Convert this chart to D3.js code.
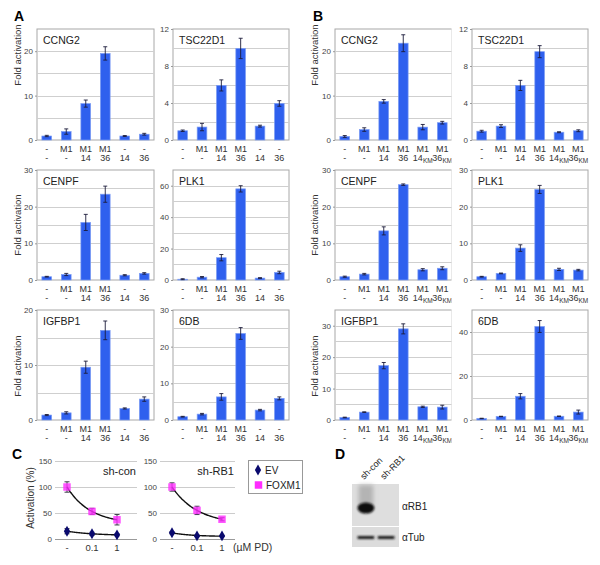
<!DOCTYPE html>
<html><head><meta charset="utf-8">
<script src="https://cdn.jsdelivr.net/npm/d3@7/dist/d3.min.js"></script>
<style>body{margin:0;background:#fff}</style>
</head><body>
<script>
// ---------- DATA ----------
const rowLabelA = ["-","M1","M1","M1","-","-"];
const subLabelA = ["-","-","14","36","14","36"];
const rowLabelB = ["-","M1","M1","M1","M1","M1"];
const subLabelB = ["-","-","14","36","14","36"];
const subScriptB = ["","","","","KM","KM"];

const ccng2A = [0.9, 1.9, 8.2, 19.5, 0.9, 1.3];
const ccng2AErr = [0.15, 0.6, 0.8, 1.5, 0.1, 0.2];
const tsc22d1A = [1.0, 1.4, 5.9, 9.9, 1.5, 3.95];
const tsc22d1AErr = [0.08, 0.4, 0.6, 1.1, 0.1, 0.3];
const cenpfA = [0.9, 1.5, 15.7, 23.4, 1.3, 1.8];
const cenpfAErr = [0.1, 0.3, 2.2, 2.2, 0.15, 0.2];
const plk1A = [0.5, 1.8, 14.2, 58, 1.2, 4.8];
const plk1AErr = [0.3, 0.4, 2.0, 2.0, 0.3, 0.8];
const igfbp1A = [0.9, 1.3, 9.6, 16.3, 2.1, 3.8];
const igfbp1AErr = [0.1, 0.2, 1.1, 1.7, 0.1, 0.4];
const sixdbA = [0.9, 1.6, 6.3, 23.6, 2.7, 5.9];
const sixdbAErr = [0.1, 0.2, 0.9, 1.6, 0.2, 0.4];

const ccng2B = [0.8, 2.35, 8.7, 21.8, 2.9, 3.9];
const ccng2BErr = [0.2, 0.4, 0.4, 1.9, 0.6, 0.3];
const tsc22d1B = [0.95, 1.5, 5.9, 9.55, 0.84, 1.0];
const tsc22d1BErr = [0.1, 0.15, 0.55, 0.65, 0.05, 0.1];
const cenpfB = [0.9, 1.6, 13.4, 26.0, 2.8, 3.2];
const cenpfBErr = [0.15, 0.2, 1.1, 0.2, 0.3, 0.4];
const plk1B = [0.9, 1.8, 8.7, 24.7, 2.9, 2.7];
const plk1BErr = [0.1, 0.1, 0.9, 1.1, 0.3, 0.2];
const igfbp1B = [0.8, 2.5, 17.3, 29.0, 4.2, 4.1];
const igfbp1BErr = [0.1, 0.1, 1.0, 1.6, 0.2, 0.6];
const sixdbB = [0.7, 1.6, 10.8, 42.5, 1.7, 3.6];
const sixdbBErr = [0.1, 0.1, 1.2, 2.7, 0.1, 0.9];

const doses = ["-", "0.1", "1"];
const shConFOXM1 = [100, 53, 37];
const shConFOXM1Err = [10, 6, 10];
const shConEV = [15, 10, 8];
const shConEVErr = [5, 3, 2];
const shRB1FOXM1 = [100, 55, 38];
const shRB1FOXM1Err = [8, 8, 3];
const shRB1EV = [12, 6, 6];
const shRB1EVErr = [2, 1, 1];
const cTicks = [0, 50, 100, 150];

// ---------- LAYOUT ----------
const FONT = "Arial, 'Liberation Sans', Helvetica, sans-serif";
const BAR = "#2f60ee", BAR_EDGE = "#7d9df4", ERR = "#1b1b3a";
const svg = d3.select("body").append("svg").attr("width", 600).attr("height", 565)
  .style("font-family", FONT);

const defs = svg.append("defs");
defs.append("clipPath").attr("id", "clipB1").append("rect")
  .attr("x", 296).attr("y", 0).attr("width", 155.5).attr("height", 450);
defs.append("filter").attr("id", "blur1").attr("x", "-50%").attr("y", "-50%").attr("width", "200%").attr("height", "200%")
  .append("feGaussianBlur").attr("stdDeviation", 1.2);
defs.append("filter").attr("id", "blur2").attr("x", "-50%").attr("y", "-50%").attr("width", "200%").attr("height", "200%")
  .append("feGaussianBlur").attr("stdDeviation", 2.2);

const colsA = [{x0: 37, x1: 154}, {x0: 173, x1: 289}];
const colsB = [{x0: 335, x1: 452}, {x0: 472, x1: 588}];
const rows = [{y0: 29, y1: 140, lab: 55}, {y0: 170, y1: 280, lab: 225}, {y0: 310, y1: 420, lab: 366}];

function drawBars(parent, c) {
  const g = parent.append("g");
  const x = d3.scaleBand().domain(d3.range(c.values.length)).range([c.x0, c.x1])
    .paddingInner(0.5).paddingOuter(0.25);
  const y = d3.scaleLinear().domain([0, c.max]).range([c.y1, c.y0]);
  g.append("rect").attr("x", c.x0).attr("y", y(c.max)).attr("width", c.x1 - c.x0)
    .attr("height", y(0) - y(c.max)).attr("fill", "#fff").attr("stroke", "#a8a8a8").attr("stroke-width", 1);
  g.selectAll(".grid").data(d3.range(c.grid, c.max - 1e-6, c.grid)).join("line")
    .attr("x1", c.x0).attr("x2", c.x1).attr("y1", d => Math.round(y(d)) + 0.5).attr("y2", d => Math.round(y(d)) + 0.5)
    .attr("stroke", "#cfcfcf").attr("stroke-width", 1);
  const ax = g.append("g").attr("transform", `translate(${c.x0},0)`)
    .call(d3.axisLeft(y).tickValues(d3.range(0, c.max + 1e-6, c.tick)).tickSize(2).tickPadding(2));
  ax.attr("font-family", FONT).attr("font-size", 8);
  ax.select(".domain").remove();
  ax.selectAll("line").attr("stroke", "#999");
  ax.selectAll("text").attr("fill", "#444");
  g.append("text").attr("x", c.x0 + 6).attr("y", y(c.max) + 14.5).attr("font-size", 10.5)
    .attr("fill", "#222").text(c.name);
  g.selectAll(".bar").data(c.values).join("rect")
    .attr("x", (d, i) => x(i)).attr("width", x.bandwidth())
    .attr("y", d => y(d)).attr("height", d => y(0) - y(d))
    .attr("fill", BAR).attr("stroke", BAR_EDGE).attr("stroke-width", 0.7);
  const eb = g.selectAll(".err").data(c.values).join("g").attr("stroke", ERR).attr("stroke-width", 0.9);
  eb.append("line").attr("x1", (d, i) => x(i) + x.bandwidth() / 2).attr("x2", (d, i) => x(i) + x.bandwidth() / 2)
    .attr("y1", (d, i) => y(d - c.errs[i])).attr("y2", (d, i) => y(d + c.errs[i]));
  [1, -1].forEach(s => {
    eb.append("line").attr("x1", (d, i) => x(i) + x.bandwidth() / 2 - 2).attr("x2", (d, i) => x(i) + x.bandwidth() / 2 + 2)
      .attr("y1", (d, i) => y(d + s * c.errs[i])).attr("y2", (d, i) => y(d + s * c.errs[i]));
  });
  g.selectAll(".l1").data(c.lab1).join("text")
    .attr("x", (d, i) => x(i) + x.bandwidth() / 2).attr("y", y(0) + 11.5)
    .attr("text-anchor", "middle").attr("font-size", 9).attr("fill", "#333").text(d => d);
  const l2 = g.selectAll(".l2").data(c.lab2).join("text")
    .attr("x", (d, i) => x(i) + x.bandwidth() / 2).attr("y", y(0) + 20.5)
    .attr("text-anchor", "middle").attr("font-size", 9).attr("fill", "#333");
  l2.append("tspan").text(d => d);
  if (c.sub) {
    l2.append("tspan").attr("font-size", 6.5).attr("dy", 2).text((d, i) => c.sub[i]);
  }
}

function figure(cols, labA, labB, sub, sets, ylabX, clipFirst) {
  const gCol0 = svg.append("g");
  if (clipFirst) gCol0.attr("clip-path", "url(#clipB1)");
  const gCol1 = svg.append("g");
  sets.forEach((s, k) => {
    const r = rows[Math.floor(k / 2)], col = cols[k % 2];
    drawBars(k % 2 === 0 ? gCol0 : gCol1, Object.assign({}, s, {x0: col.x0, x1: col.x1, y0: r.y0, y1: r.y1,
      lab1: labA, lab2: labB, sub: sub}));
  });
  rows.forEach(r => {
    svg.append("text").attr("transform", `translate(${ylabX},${r.lab}) rotate(-90)`)
      .attr("text-anchor", "middle").attr("dy", "0.35em").attr("font-size", 9.5).attr("fill", "#333")
      .text("Fold activation");
  });
}

figure(colsA, rowLabelA, subLabelA, null, [
  {name: "CCNG2", values: ccng2A, errs: ccng2AErr, max: 25, grid: 5, tick: 10},
  {name: "TSC22D1", values: tsc22d1A, errs: tsc22d1AErr, max: 12, grid: 2, tick: 4},
  {name: "CENPF", values: cenpfA, errs: cenpfAErr, max: 30, grid: 5, tick: 10},
  {name: "PLK1", values: plk1A, errs: plk1AErr, max: 70, grid: 10, tick: 20},
  {name: "IGFBP1", values: igfbp1A, errs: igfbp1AErr, max: 20, grid: 5, tick: 10},
  {name: "6DB", values: sixdbA, errs: sixdbAErr, max: 30, grid: 5, tick: 10}
], 17.5, false);

figure(colsB, rowLabelB, subLabelB, subScriptB, [
  {name: "CCNG2", values: ccng2B, errs: ccng2BErr, max: 25, grid: 5, tick: 10},
  {name: "TSC22D1", values: tsc22d1B, errs: tsc22d1BErr, max: 12, grid: 2, tick: 4},
  {name: "CENPF", values: cenpfB, errs: cenpfBErr, max: 30, grid: 5, tick: 10},
  {name: "PLK1", values: plk1B, errs: plk1BErr, max: 30, grid: 5, tick: 10},
  {name: "IGFBP1", values: igfbp1B, errs: igfbp1BErr, max: 35, grid: 5, tick: 10},
  {name: "6DB", values: sixdbB, errs: sixdbBErr, max: 50, grid: 10, tick: 20}
], 315, true);

// ---------- PANEL C ----------
// exponential trend line (y = a + b*r^t) fitted to the three measured points
function expFit(vals) {
  let r = (vals[1] - vals[2]) / (vals[0] - vals[1]);
  if (!isFinite(r)) r = 0.5;
  r = Math.max(0.3, Math.min(0.9, r));
  const f = [1, r, r * r];
  const mf = d3.mean(f), mv = d3.mean(vals);
  const b = d3.sum(f, (fi, i) => (fi - mf) * (vals[i] - mv)) / d3.sum(f, fi => (fi - mf) ** 2);
  const a = mv - b * mf;
  return t => a + b * Math.pow(r, t);
}
const yC = d3.scaleLinear().domain([0, 150]).range([539, 461]);
const cCharts = [
  {name: "sh-con", x0: 55, x1: 137, p0: 67, p1: 117, fox: shConFOXM1, foxE: shConFOXM1Err, ev: shConEV, evE: shConEVErr},
  {name: "sh-RB1", x0: 160, x1: 235, p0: 172, p1: 222, fox: shRB1FOXM1, foxE: shRB1FOXM1Err, ev: shRB1EV, evE: shRB1EVErr}
];
const symFox = d3.symbol().type(d3.symbolSquare).size(56);
const symEV = d3.symbol().type(d3.symbolDiamond).size(34);
cCharts.forEach(c => {
  const g = svg.append("g");
  const x = d3.scalePoint().domain(doses).range([c.p0, c.p1]);
  g.selectAll(".cg").data(cTicks.slice(1)).join("line")
    .attr("x1", c.x0).attr("x2", c.x1).attr("y1", d => Math.round(yC(d)) + 0.5).attr("y2", d => Math.round(yC(d)) + 0.5)
    .attr("stroke", "#cccccc");
  g.append("line").attr("x1", c.x0).attr("x2", c.x1).attr("y1", Math.round(yC(0)) + 0.5).attr("y2", Math.round(yC(0)) + 0.5)
    .attr("stroke", "#9a9a9a");
  const ax = g.append("g").attr("transform", `translate(${c.x0},0)`)
    .call(d3.axisLeft(yC).tickValues(cTicks).tickSize(0).tickPadding(3));
  ax.attr("font-family", FONT).attr("font-size", 8);
  ax.select(".domain").remove();
  ax.selectAll("text").attr("fill", "#444");
  g.selectAll(".xl").data(doses).join("text").attr("x", d => x(d)).attr("y", 551)
    .attr("text-anchor", "middle").attr("font-size", 9.5).attr("fill", "#333").text(d => d);
  g.append("text").attr("x", c.x1 - 1).attr("y", 474.5).attr("text-anchor", "end")
    .attr("font-size", 11).attr("fill", "#222").text(c.name);
  const ts = d3.range(0, 2.0001, 0.05);
  const tx = t => x(doses[0]) + t * x.step();
  [c.ev, c.fox].forEach(s => {
    const fit = expFit(s);
    g.append("path").attr("d", d3.line().x(tx).y(t => yC(fit(t))).curve(d3.curveMonotoneX)(ts))
      .attr("fill", "none").attr("stroke", "#111").attr("stroke-width", 1.4);
  });
  [[c.ev, c.evE], [c.fox, c.foxE]].forEach(([s, e]) => {
    const eg = g.append("g").attr("stroke", "#2a2a3a").attr("stroke-width", 0.9);
    s.forEach((v, i) => {
      const xx = x(doses[i]);
      eg.append("line").attr("x1", xx).attr("x2", xx).attr("y1", yC(v - e[i])).attr("y2", yC(v + e[i]));
      [v - e[i], v + e[i]].forEach(w => eg.append("line").attr("x1", xx - 2.5).attr("x2", xx + 2.5)
        .attr("y1", yC(w)).attr("y2", yC(w)));
    });
  });
  g.selectAll(".pev").data(c.ev).join("path").attr("d", symEV)
    .attr("transform", (d, i) => `translate(${x(doses[i])},${yC(d)})`).attr("fill", "#0a0a6e");
  g.selectAll(".pfx").data(c.fox).join("path").attr("d", symFox)
    .attr("transform", (d, i) => `translate(${x(doses[i])},${yC(d)})`).attr("fill", "#ff2cff").attr("fill-opacity", 0.8);
});
svg.append("text").attr("transform", "translate(30,498) rotate(-90)").attr("text-anchor", "middle")
  .attr("dy", "0.35em").attr("font-size", 10).attr("fill", "#333").text("Activation (%)");
svg.append("text").attr("x", 233).attr("y", 551).attr("font-size", 10.5).attr("fill", "#333").text("(\u00B5M PD)");
// legend
const lg = svg.append("g");
lg.append("rect").attr("x", 248.5).attr("y", 460.5).attr("width", 54).attr("height", 33)
  .attr("fill", "#fff").attr("stroke", "#999");
lg.append("path").attr("d", symEV).attr("transform", "translate(258,470)").attr("fill", "#0a0a6e");
lg.append("text").attr("x", 265).attr("y", 473.5).attr("font-size", 10).attr("fill", "#222").text("EV");
lg.append("path").attr("d", symFox).attr("transform", "translate(258.5,485)").attr("fill", "#ff2cff");
lg.append("text").attr("x", 266).attr("y", 488.5).attr("font-size", 10).attr("fill", "#222").text("FOXM1");

// ---------- PANEL D (western blot) ----------
const lanes = ["sh-con", "sh-RB1"];
const blot = {x: 352, w: 47, top1: 484, h1: 42, top2: 527, h2: 20};
const laneX = d3.scaleBand().domain(lanes).range([blot.x + 3, blot.x + blot.w - 2]).padding(0.08);
const gd = svg.append("g");
gd.append("rect").attr("x", blot.x).attr("y", blot.top1).attr("width", blot.w).attr("height", blot.h1).attr("fill", "#dedede");
gd.append("rect").attr("x", blot.x).attr("y", blot.top2).attr("width", blot.w).attr("height", blot.h2).attr("fill", "#dcdcdc");
gd.append("rect").attr("x", laneX("sh-con") + 2).attr("y", blot.top1 + 1).attr("width", laneX.bandwidth() - 4)
  .attr("height", 20).attr("fill", "#b4b4b4").attr("filter", "url(#blur2)");
gd.append("ellipse").attr("cx", laneX("sh-con") + laneX.bandwidth() / 2).attr("cy", blot.top1 + 24)
  .attr("rx", 8.5).attr("ry", 5.5).attr("fill", "#111").attr("filter", "url(#blur1)");
lanes.forEach(l => gd.append("rect").attr("x", laneX(l) + 1).attr("y", blot.top2 + 9)
  .attr("width", laneX.bandwidth() - 2).attr("height", 3).attr("fill", "#1a1a1a").attr("filter", "url(#blur1)"));
lanes.forEach(l => gd.append("text")
  .attr("transform", `translate(${laneX(l) + laneX.bandwidth() / 2 - 2},${blot.top1 - 4}) rotate(-45)`)
  .attr("font-size", 9).attr("fill", "#222").text(l));
gd.append("text").attr("x", 402).attr("y", 510).attr("font-size", 10).attr("fill", "#222").text("\u03B1RB1");
gd.append("text").attr("x", 402).attr("y", 541).attr("font-size", 10).attr("fill", "#222").text("\u03B1Tub");

// ---------- PANEL LETTERS ----------
[["A", 19, 21], ["B", 318, 21], ["C", 17, 459], ["D", 340, 459]].forEach(([t, x, y]) =>
  svg.append("text").attr("x", x).attr("y", y).attr("text-anchor", "middle").attr("font-size", 14)
    .attr("font-weight", "bold").attr("fill", "#000").text(t));
</script>
</body></html>
